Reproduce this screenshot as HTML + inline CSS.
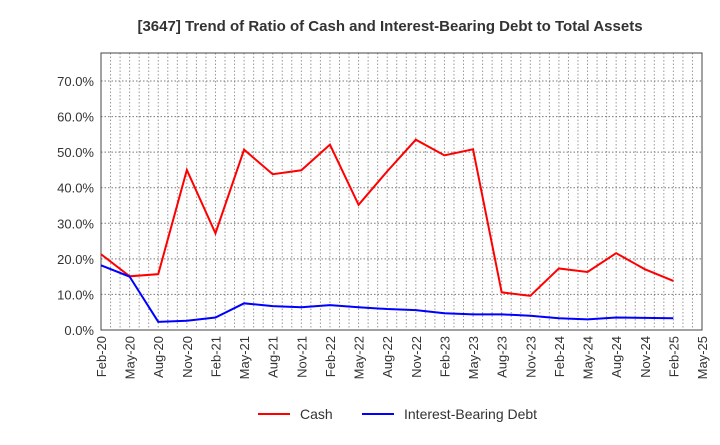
<!DOCTYPE html>
<html><head><meta charset="utf-8"><style>
body{margin:0;background:#fff;font-family:"Liberation Sans",sans-serif}
</style></head><body>
<svg id="c" width="720" height="440" xmlns="http://www.w3.org/2000/svg">
<text x="390" y="31" text-anchor="middle" font-size="15" font-weight="bold" fill="#333">[3647]  Trend of Ratio of Cash and Interest-Bearing Debt to Total Assets</text>
<g id="grid"></g><g id="axes"></g><g id="series"></g>
<g>
<line x1="258" y1="414" x2="290" y2="414" stroke="#f00" stroke-width="2"/>
<text x="300" y="419" font-size="14" fill="#333">Cash</text>
<line x1="362" y1="414" x2="394" y2="414" stroke="#00f" stroke-width="2"/>
<text x="404" y="419" font-size="14" fill="#333">Interest-Bearing Debt</text>
</g>
</svg>
<script>
const xLabels=["Feb-20","May-20","Aug-20","Nov-20","Feb-21","May-21","Aug-21","Nov-21","Feb-22","May-22","Aug-22","Nov-22","Feb-23","May-23","Aug-23","Nov-23","Feb-24","May-24","Aug-24","Nov-24","Feb-25","May-25"];
const cash=[21.3,15.1,15.7,45.0,27.2,50.7,43.8,44.9,52.1,35.2,44.6,53.5,49.1,50.8,10.6,9.6,17.3,16.3,21.6,17.1,13.8];
const debt=[18.2,15.0,2.3,2.6,3.5,7.5,6.7,6.4,7.0,6.4,5.9,5.6,4.7,4.4,4.4,4.0,3.3,3.0,3.5,3.4,3.3];
const yTicks=[0,10,20,30,40,50,60,70];
const L=101,R=702,T=53,B=330,ns="http://www.w3.org/2000/svg";
const xs=i=>L+(R-L)*i/(xLabels.length-1);
const ys=v=>B-v*(B-81)/70;
function mk(t,a,p){const e=document.createElementNS(ns,t);for(const k in a)e.setAttribute(k,a[k]);p.appendChild(e);return e;}
const g=document.getElementById('grid'),ax=document.getElementById('axes'),s=document.getElementById('series');
for(let m=1;m<(xLabels.length-1)*3;m++){const x=L+(R-L)*m/((xLabels.length-1)*3);
const l=mk('line',{x1:x,x2:x,y1:T,y2:B,stroke:'#999','stroke-dasharray':'1.5,2','stroke-width':1},g);
}
yTicks.forEach(v=>{const y=ys(v);
if(v>0){const l=mk('line',{x1:L,x2:R,y1:y,y2:y,stroke:'#777','stroke-dasharray':'1.5,2','stroke-width':1},g);
}
const t=mk('text',{x:L-7,y:y+5,'text-anchor':'end','font-size':13,fill:'#333'},ax);t.textContent=v.toFixed(1)+'%';
});
const fr=mk('rect',{x:L,y:T,width:R-L,height:B-T,fill:'none',stroke:'#444','stroke-width':1},ax);

xLabels.forEach((lb,i)=>{const x=xs(i);const t=mk('text',{x:x+5,y:B+6,'text-anchor':'end','font-size':13,fill:'#333',transform:`rotate(-90 ${x+5} ${B+6})`},ax);
t.textContent=lb;});
[[cash,'#f00','cash-line'],[debt,'#00f','debt-line']].forEach(([d,c,n])=>{
const p=mk('polyline',{points:d.map((v,i)=>xs(i)+','+ys(v)).join(' '),fill:'none',stroke:c,'stroke-width':2},s);
});
</script>
</body></html>
